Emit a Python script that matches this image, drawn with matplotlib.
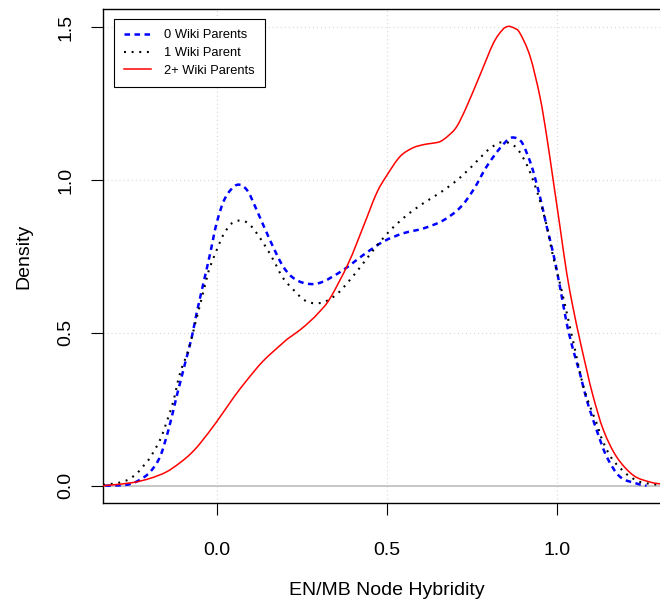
import numpy as np
import matplotlib
matplotlib.use("Agg")
import matplotlib.pyplot as plt
from matplotlib.path import Path
from matplotlib.patches import PathPatch
from matplotlib.lines import Line2D

plt.rcParams['font.family'] = ['Liberation Sans', 'DejaVu Sans']
plt.rcParams['lines.scale_dashes'] = False

# Density curves (x = hybridity, y = density)
x_zero = [-0.330, -0.267, -0.230, -0.198, -0.169, -0.144, -0.120, -0.095, -0.075, -0.061,
          -0.041, -0.021, -0.002, 0.023, 0.057, 0.087, 0.116, 0.155, 0.194, 0.230,
          0.273, 0.312, 0.371, 0.430, 0.489, 0.548, 0.607, 0.665, 0.715, 0.754,
          0.793, 0.832, 0.862, 0.885, 0.901, 0.926, 0.950, 0.970, 0.989, 1.009,
          1.029, 1.048, 1.068, 1.088, 1.117, 1.147, 1.186, 1.235, 1.264]
y_zero = [0.000, 0.003, 0.018, 0.045, 0.094, 0.182, 0.291, 0.400, 0.487, 0.564,
          0.662, 0.760, 0.859, 0.941, 0.984, 0.968, 0.902, 0.804, 0.717, 0.675,
          0.660, 0.668, 0.706, 0.755, 0.799, 0.826, 0.842, 0.868, 0.910, 0.968,
          1.044, 1.104, 1.137, 1.135, 1.115, 1.044, 0.946, 0.848, 0.761, 0.651,
          0.531, 0.444, 0.367, 0.280, 0.182, 0.094, 0.029, 0.007, 0.000]

x_one = [-0.336, -0.321, -0.292, -0.262, -0.237, -0.218, -0.198, -0.169, -0.149, -0.130,
         -0.110, -0.085, -0.065, -0.051, -0.036, -0.021, 0.013, 0.028, 0.047, 0.075,
         0.101, 0.135, 0.165, 0.194, 0.234, 0.255, 0.283, 0.312, 0.339, 0.361,
         0.400, 0.438, 0.474, 0.514, 0.558, 0.605, 0.655, 0.703, 0.747, 0.788,
         0.811, 0.837, 0.865, 0.888, 0.916, 0.947, 0.970, 0.989, 1.011, 1.037,
         1.056, 1.076, 1.095, 1.117, 1.135, 1.163, 1.203, 1.230, 1.256, 1.310]
y_one = [0.002, 0.005, 0.009, 0.020, 0.040, 0.064, 0.092, 0.149, 0.209, 0.274,
         0.367, 0.444, 0.531, 0.591, 0.657, 0.717, 0.810, 0.839, 0.862, 0.867,
         0.848, 0.795, 0.739, 0.679, 0.630, 0.608, 0.597, 0.600, 0.616, 0.636,
         0.686, 0.740, 0.791, 0.841, 0.885, 0.923, 0.958, 0.997, 1.042, 1.089,
         1.110, 1.124, 1.119, 1.096, 1.039, 0.944, 0.850, 0.749, 0.653, 0.526,
         0.431, 0.332, 0.267, 0.204, 0.146, 0.087, 0.040, 0.020, 0.009, 0.002]

x_two = [-0.336, -0.316, -0.250, -0.198, -0.150, -0.110, -0.080, -0.051, -0.002, 0.047,
         0.087, 0.135, 0.194, 0.214, 0.244, 0.273, 0.300, 0.332, 0.386, 0.430,
         0.469, 0.499, 0.538, 0.575, 0.607, 0.630, 0.656, 0.680, 0.705, 0.734,
         0.774, 0.813, 0.840, 0.857, 0.875, 0.891, 0.921, 0.950, 0.970, 0.989,
         1.009, 1.029, 1.048, 1.068, 1.088, 1.107, 1.137, 1.176, 1.225, 1.274,
         1.310]
y_two = [0.000, 0.002, 0.010, 0.024, 0.045, 0.075, 0.103, 0.138, 0.209, 0.287,
         0.345, 0.408, 0.468, 0.486, 0.510, 0.538, 0.568, 0.613, 0.728, 0.848,
         0.957, 1.015, 1.077, 1.105, 1.116, 1.120, 1.126, 1.145, 1.175, 1.240,
         1.345, 1.448, 1.492, 1.503, 1.497, 1.481, 1.405, 1.273, 1.143, 1.000,
         0.848, 0.695, 0.580, 0.475, 0.378, 0.291, 0.182, 0.094, 0.034, 0.012,
         0.005]

labels = ['0 Wiki Parents', '1 Wiki Parent', '2+ Wiki Parents']
x_ticks = [0.0, 0.5, 1.0]
y_ticks = [0.0, 0.5, 1.0, 1.5]


def smooth_path(xs, ys):
    # bezier path through the read points (Catmull-Rom tangents), for drawing only
    p = np.column_stack([xs, ys]).astype(float)
    ext = np.vstack([p[0], p, p[-1]])
    verts = [p[0]]
    codes = [Path.MOVETO]
    for i in range(len(p) - 1):
        p0, p1, p2, p3 = ext[i], ext[i + 1], ext[i + 2], ext[i + 3]
        verts += [p1 + (p2 - p0) / 6.0, p2 - (p3 - p1) / 6.0, p2]
        codes += [Path.CURVE4] * 3
    return Path(verts, codes)


W, H = 660, 602
fig = plt.figure(figsize=(W / 100, H / 100), dpi=100)
left, right, top, bottom = 102.7, 660.0, 9.0, 503.3
ax = fig.add_axes([left / W, (H - bottom) / H, (right - left) / W, (bottom - top) / H])

px_per_x, x0_px = 339.6, 217.3
px_per_y, y0_px = 305.6, 485.7
ax.set_xlim((left - x0_px) / px_per_x, (right - x0_px) / px_per_x)
ax.set_ylim((y0_px - bottom) / px_per_y, (y0_px - top) / px_per_y)

# grid and zero line
for xv in x_ticks:
    ax.axvline(xv, color='#d3d3d3', lw=0.8, dashes=(0.7, 2.2), zorder=0)
for yv in y_ticks:
    ax.axhline(yv, color='#d3d3d3', lw=0.8, dashes=(0.7, 2.2), zorder=0)
ax.axhline(0, color='#bebebe', lw=1.2, zorder=1)

styles = [
    dict(color='blue', lw=1.8, ls=(0, (4.0, 3.2))),
    dict(color='black', lw=1.5, ls=(0, (1.4, 4.1))),
    dict(color='red', lw=1.1, ls='-'),
]
series = [(x_zero, y_zero), (x_one, y_one), (x_two, y_two)]
handles = []
for (xs, ys), st, lab in zip(series, styles, labels):
    patch = PathPatch(smooth_path(xs, ys), fill=False, edgecolor=st['color'],
                      linewidth=st['lw'], linestyle=st['ls'], capstyle='butt', zorder=3)
    ax.add_patch(patch)
    handles.append(Line2D([], [], color=st['color'], lw=st['lw'], ls=st['ls'],
                          dash_capstyle='butt', label=lab))

ax.set_xticks(x_ticks)
ax.set_xticklabels(['%.1f' % v for v in x_ticks])
ax.set_yticks(y_ticks)
ax.set_yticklabels(['%.1f' % v for v in y_ticks], rotation=90, va='center')
ax.tick_params(axis='both', length=8.6, width=0.8, labelsize=14)
ax.tick_params(axis='x', pad=19)
ax.tick_params(axis='y', pad=12)

for s in ax.spines.values():
    s.set_linewidth(1.0)
ax.spines['right'].set_visible(False)

ax.set_xlabel('EN/MB Node Hybridity', fontsize=14)
ax.set_ylabel('Density', fontsize=14)
ax.xaxis.set_label_coords(386.5 / W, 1 - 582.0 / H, transform=fig.transFigure)
ax.yaxis.set_label_coords(32.0 / W, 1 - 256.0 / H, transform=fig.transFigure)

leg = ax.legend(handles=handles, loc='upper left', bbox_to_anchor=(114 / W, 1 - 19 / H),
                bbox_transform=fig.transFigure, borderaxespad=0, fontsize=9.3,
                handlelength=2.1, handletextpad=1.0, borderpad=0.8,
                labelspacing=0.44, fancybox=False, framealpha=1)
leg.get_frame().set_edgecolor('black')
leg.get_frame().set_linewidth(0.8)

fig.savefig('out.png', dpi=100)
